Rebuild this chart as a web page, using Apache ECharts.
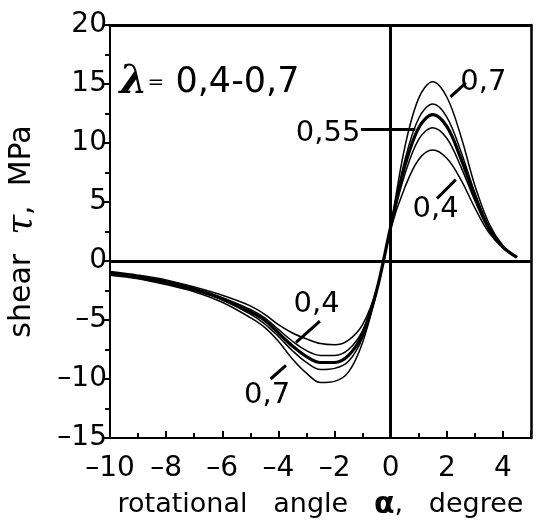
<!DOCTYPE html>
<html>
<head>
<meta charset="utf-8">
<script src="https://cdn.jsdelivr.net/npm/echarts@6/dist/echarts.min.js"></script>
<style>
html,body{margin:0;padding:0;background:#fff;}
#chart{width:536px;height:521px;}
</style>
</head>
<body>
<div id="chart"></div>
<script>
// rotational angle alpha, degree
var alphaValues = [-10,-9,-8,-7,-6,-5,-4.5,-4,-3.5,-3,-2.5,-2,-1.5,-1,-0.5,0,0.5,1,1.5,2,2.5,3,3.5,4,4.5];
// shear tau, MPa for lambda values
var tau040  = [-0.9,-1.2,-1.6,-2.2,-2.9,-3.8,-4.5,-5.4,-6.1,-6.6,-7.0,-7.1,-6.7,-5.4,-2.4,2.7,6.2,8.6,9.4,8.7,6.9,4.5,2.4,1.1,0.3];
var tau0475 = [-1.0,-1.3,-1.7,-2.3,-3.1,-4.1,-4.8,-5.8,-6.8,-7.6,-8.0,-8.0,-7.5,-5.9,-2.5,2.8,7.3,10.3,11.3,10.4,8.0,5.1,2.6,1.1,0.3];
var tau055  = [-1.0,-1.35,-1.8,-2.4,-3.2,-4.3,-5.0,-6.1,-7.2,-8.1,-8.6,-8.6,-8.0,-6.2,-2.5,2.9,8.0,11.3,12.4,11.4,8.7,5.5,2.8,1.2,0.3];
var tau0625 = [-1.1,-1.4,-1.9,-2.5,-3.3,-4.5,-5.3,-6.4,-7.6,-8.6,-9.2,-9.1,-8.5,-6.5,-2.6,2.9,8.5,12.1,13.3,12.2,9.3,5.8,2.9,1.2,0.3];
var tau070  = [-1.2,-1.5,-2.0,-2.6,-3.5,-4.8,-5.6,-6.8,-8.3,-9.5,-10.3,-10.2,-9.4,-6.9,-2.6,3.0,9.6,13.8,15.2,13.9,10.6,6.4,3.2,1.3,0.3];

// annotation labels (text, x, y) and leader lines (x1,y1,x2,y2)
var labelTexts = ['0,7','0,55','0,4','0,4','0,7'];
var labelX     = [3.3, -2.23, 1.6, -2.64, -4.4];
var labelY     = [15.1, 10.8, 4.4, -3.7, -11.4];
var leaderX1 = [2.13, -1.06, 1.65, -2.52, -4.28];
var leaderY1 = [13.9, 11.2, 5.3, -5.1, -10.0];
var leaderX2 = [2.68, 0.88, 2.32, -3.37, -3.73];
var leaderY2 = [15.1, 11.2, 6.9, -6.9, -8.85];
var lambdaX = -9.66, lambdaY = 15.1;

var FONT = 'DejaVu Sans';
function pairs(v){ return alphaValues.map(function(x,i){ return [x, v[i]]; }); }
function dashFmt(v){ return String(v).replace('-', '\u2013'); }

var leaderData = labelTexts.map(function(t,i){
  return [{coord:[leaderX1[i], leaderY1[i]]},{coord:[leaderX2[i], leaderY2[i]]}];
});
var labelData = labelTexts.map(function(t,i){
  return {coord:[labelX[i], labelY[i]], value:t};
});
labelData.push({
  coord:[lambdaX, lambdaY], value:'lambda',
  label:{align:'left', formatter:'{l|\u03bb}{e|=} 0,4-0,7',
    fontSize:35,
    rich:{l:{fontFamily:'DejaVu Serif', fontStyle:'italic', fontWeight:'bold', fontSize:40, color:'#000'},
          e:{fontSize:20, color:'#000', fontFamily:FONT}}}
});

function curve(name, v, w, extra){
  var s = {
    name:name, type:'line', data:pairs(v), smooth:0.35, symbol:'none',
    lineStyle:{color:'#000', width:w}, z:3, silent:true
  };
  if (extra) for (var k in extra) s[k] = extra[k];
  return s;
}

var chart = echarts.init(document.getElementById('chart'), null, {renderer:'canvas'});
chart.setOption({
  backgroundColor:'#fff',
  animation:false,
  grid:{left:110, right:5, top:25, bottom:83, containLabel:false, outerBoundsMode:'none'},
  xAxis:[{
    type:'value', min:-10, max:5, interval:2, position:'bottom',
    axisLine:{show:true, onZero:false, lineStyle:{color:'#000', width:2}},
    axisTick:{show:true, inside:true, length:7, lineStyle:{color:'#000', width:2}},
    minorTick:{show:true, splitNumber:2, length:5, lineStyle:{color:'#000', width:2}},
    splitLine:{show:false},
    axisLabel:{color:'#000', fontFamily:FONT, fontSize:28, margin:17, showMaxLabel:false, formatter:dashFmt},
    name:'rotational   angle   {a|\u03b1},   degree',
    nameLocation:'middle', nameGap:52,
    nameTextStyle:{color:'#000', fontFamily:FONT, fontSize:27,
      rich:{a:{fontFamily:FONT, fontWeight:'bold', fontSize:30, color:'#000'}}}
  },{
    type:'value', min:-10, max:5, position:'top',
    axisLine:{show:true, onZero:false, lineStyle:{color:'#000', width:3}},
    axisTick:{show:false}, axisLabel:{show:false}, splitLine:{show:false}
  }],
  yAxis:[{
    type:'value', min:-15, max:20, interval:5, position:'left',
    axisLine:{show:true, onZero:false, lineStyle:{color:'#000', width:2}},
    axisTick:{show:true, inside:false, length:6, lineStyle:{color:'#000', width:2}},
    minorTick:{show:true, splitNumber:2, length:5, lineStyle:{color:'#000', width:2}},
    splitLine:{show:false},
    axisLabel:{color:'#000', fontFamily:FONT, fontSize:28, margin:3, formatter:dashFmt},
    name:'shear  {t|\u03c4},  MPa',
    nameLocation:'middle', nameGap:70,
    nameTextStyle:{color:'#000', fontFamily:FONT, fontSize:30,
      rich:{t:{fontFamily:'DejaVu Serif', fontStyle:'italic', fontSize:36, color:'#000'}}}
  },{
    type:'value', min:-15, max:20, position:'right',
    axisLine:{show:true, onZero:false, lineStyle:{color:'#000', width:2.5}},
    axisTick:{show:false}, axisLabel:{show:false}, splitLine:{show:false}
  }],
  series:[
    curve('0,4', tau040, 1.5, {
      markLine:{silent:true, symbol:'none', label:{show:false},
        lineStyle:{color:'#000', width:3, type:'solid'},
        data:[{xAxis:0},{yAxis:0}]}
    }),
    curve('0,475', tau0475, 1.5),
    curve('0,55', tau055, 3.2),
    curve('0,625', tau0625, 1.5),
    curve('0,7', tau070, 1.5, {
      markLine:{silent:true, symbol:'none', label:{show:false},
        lineStyle:{color:'#000', width:3, type:'solid'},
        data:leaderData},
      markPoint:{silent:true, symbol:'circle', symbolSize:1, itemStyle:{color:'rgba(0,0,0,0)'},
        label:{show:true, position:'inside', color:'#000', fontFamily:FONT, fontSize:29,
          formatter:function(p){ return p.value; }},
        data:labelData}
    })
  ]
});
</script>
</body>
</html>
